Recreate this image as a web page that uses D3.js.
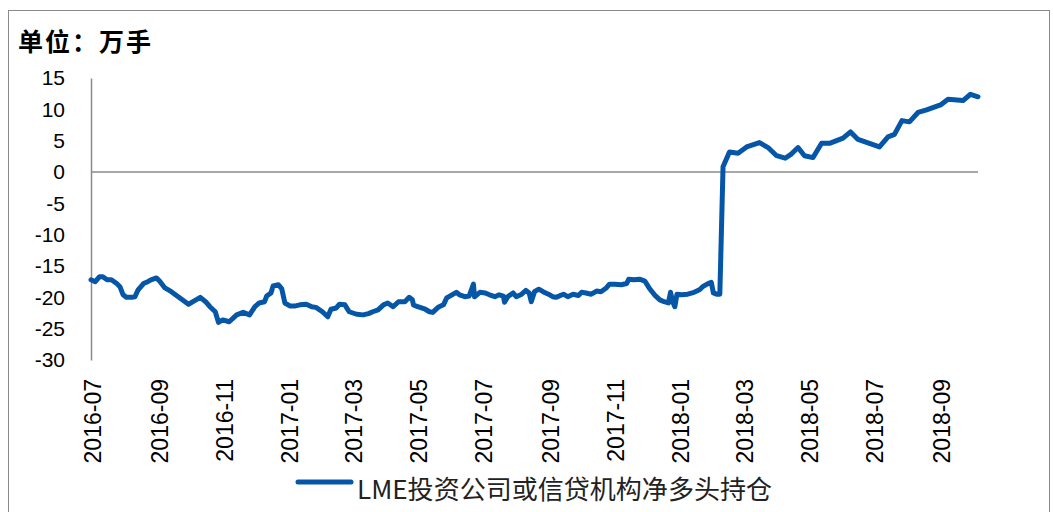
<!DOCTYPE html>
<html lang="zh">
<head>
<meta charset="UTF-8">
<title>LME投资公司或信贷机构净多头持仓</title>
<script src="https://d3js.org/d3.v7.min.js"></script>
<style>
    body { margin: 0; background: #fff; }
    svg { display: block; }
    .tick-y { font-family: "Liberation Sans", Arial, sans-serif; font-size: 21px; fill: #000; }
    .tick-x { font-family: "Liberation Sans", Arial, sans-serif; font-size: 23px; fill: #000; }
</style>
</head>
<body>
<div id="chart"></div>
<script>
    // values (unit: 万手)
    const dates = [
        "2016-06-29", "2016-07-03", "2016-07-07", "2016-07-10", "2016-07-14", "2016-07-18", "2016-07-23", "2016-07-26", "2016-07-29", "2016-08-01",
        "2016-08-06", "2016-08-09", "2016-08-12", "2016-08-17", "2016-08-21", "2016-08-24", "2016-08-29", "2016-09-01", "2016-09-06", "2016-09-12",
        "2016-09-20", "2016-09-28", "2016-10-03", "2016-10-09", "2016-10-14", "2016-10-18", "2016-10-23", "2016-10-26", "2016-10-30", "2016-11-05",
        "2016-11-12", "2016-11-18", "2016-11-24", "2016-11-29", "2016-12-03", "2016-12-08", "2016-12-10", "2016-12-14", "2016-12-16", "2016-12-21",
        "2016-12-24", "2016-12-27", "2017-01-01", "2017-01-05", "2017-01-10", "2017-01-16", "2017-01-21", "2017-01-25", "2017-01-31", "2017-02-05",
        "2017-02-08", "2017-02-13", "2017-02-16", "2017-02-21", "2017-02-25", "2017-03-04", "2017-03-10", "2017-03-15", "2017-03-19", "2017-03-24",
        "2017-03-29", "2017-04-02", "2017-04-07", "2017-04-12", "2017-04-15", "2017-04-18", "2017-04-22", "2017-04-25", "2017-04-26", "2017-04-30",
        "2017-05-07", "2017-05-11", "2017-05-14", "2017-05-19", "2017-05-24", "2017-05-27", "2017-06-01", "2017-06-05", "2017-06-08", "2017-06-13",
        "2017-06-17", "2017-06-21", "2017-06-22", "2017-06-27", "2017-07-02", "2017-07-06", "2017-07-11", "2017-07-15", "2017-07-19", "2017-07-20",
        "2017-07-23", "2017-07-28", "2017-07-31", "2017-08-05", "2017-08-09", "2017-08-12", "2017-08-14", "2017-08-17", "2017-08-21", "2017-08-25",
        "2017-08-30", "2017-09-03", "2017-09-06", "2017-09-13", "2017-09-17", "2017-09-22", "2017-09-27", "2017-09-30", "2017-10-04", "2017-10-09",
        "2017-10-14", "2017-10-18", "2017-10-23", "2017-10-26", "2017-10-31", "2017-11-06", "2017-11-11", "2017-11-13", "2017-11-18", "2017-11-23",
        "2017-11-28", "2017-12-02", "2017-12-07", "2017-12-12", "2017-12-16", "2017-12-20", "2017-12-22", "2017-12-24", "2017-12-26", "2017-12-28",
        "2018-01-01", "2018-01-07", "2018-01-13", "2018-01-18", "2018-01-21", "2018-01-26", "2018-01-29", "2018-01-31", "2018-02-03", "2018-02-06",
        "2018-02-09", "2018-02-15", "2018-02-23", "2018-03-03", "2018-03-15", "2018-03-23", "2018-03-31", "2018-04-08", "2018-04-14", "2018-04-20",
        "2018-04-26", "2018-05-04", "2018-05-12", "2018-05-20", "2018-06-01", "2018-06-08", "2018-06-15", "2018-07-05", "2018-07-13", "2018-07-19",
        "2018-07-26", "2018-08-02", "2018-08-10", "2018-08-18", "2018-08-31", "2018-09-07", "2018-09-21", "2018-09-28", "2018-10-05"
    ];

    const netLong = [
        -17.2, -17.5, -16.7, -16.7, -17.2, -17.2, -17.8, -18.3, -19.6, -20.0,
        -20.0, -19.9, -18.8, -17.8, -17.5, -17.2, -16.9, -17.4, -18.5, -19.1,
        -20.1, -21.1, -20.6, -20.0, -20.7, -21.5, -22.3, -24.0, -23.6, -23.9,
        -22.8, -22.4, -22.8, -21.5, -20.9, -20.7, -19.8, -19.3, -18.2, -18.0,
        -18.6, -20.9, -21.4, -21.4, -21.2, -21.1, -21.5, -21.6, -22.3, -23.1,
        -21.9, -21.7, -21.1, -21.2, -22.3, -22.7, -22.8, -22.6, -22.3, -22.0,
        -21.2, -20.9, -21.5, -20.7, -20.7, -20.7, -20.0, -20.4, -21.2, -21.5,
        -21.9, -22.3, -22.4, -21.6, -21.2, -20.1, -19.6, -19.2, -19.6, -19.9,
        -19.8, -17.9, -19.9, -19.2, -19.3, -19.6, -19.9, -19.6, -19.8, -20.8,
        -19.9, -19.3, -19.9, -19.5, -18.9, -19.3, -20.7, -19.1, -18.7, -19.1,
        -19.5, -19.9, -20.0, -19.5, -19.9, -19.5, -19.7, -19.2, -19.3, -19.5,
        -19.0, -19.1, -18.5, -17.9, -17.9, -18.0, -17.8, -17.1, -17.2, -17.1,
        -17.4, -18.5, -19.6, -20.4, -20.7, -20.9, -19.2, -20.7, -21.5, -19.5,
        -19.6, -19.5, -19.2, -18.8, -18.3, -17.8, -17.6, -19.3, -19.5, -19.5,
        0.85, 3.2, 3.0, 4.0, 4.7, 3.9, 2.6, 2.2, 2.9, 3.9,
        2.6, 2.3, 4.6, 4.6, 5.4, 6.4, 5.2, 4.0, 5.6, 6.0,
        8.2, 8.0, 9.5, 9.9, 10.7, 11.6, 11.4, 12.4, 12.0
    ];

    const yTicks = [15, 10, 5, 0, -5, -10, -15, -20, -25, -30];
    const xTicks = ["2016-07", "2016-09", "2016-11", "2017-01", "2017-03", "2017-05", "2017-07",
                    "2017-09", "2017-11", "2018-01", "2018-03", "2018-05", "2018-07", "2018-09"];
    const unitLabel = "单位：万手";
    const seriesName = "LME投资公司或信贷机构净多头持仓";

    const width = 1053;
    const height = 512;
    const blue = "#0656a8";
    const grey = "#8a8a8a";

    const parseDay = d3.timeParse("%Y-%m-%d");
    const parseMonth = d3.timeParse("%Y-%m");
    const data = dates.map((d, i) => ({ date: parseDay(d), value: netLong[i] }));

    const svg = d3.select("#chart").append("svg")
        .attr("width", width)
        .attr("height", height);

    // outer frame
    svg.append("rect")
        .attr("x", 8.5)
        .attr("y", 10.5)
        .attr("width", 1041)
        .attr("height", 520)
        .attr("fill", "none")
        .attr("stroke", grey)
        .attr("stroke-width", 1);

    const x = d3.scaleTime()
        .domain(d3.extent(data, d => d.date))
        .range([91, 978]);

    const y = d3.scaleLinear()
        .domain([-30, 15])
        .range([360, 78]);

    // y axis, plain hyphen for negatives like the original
    const yAxis = d3.axisLeft(y)
        .tickValues(yTicks)
        .tickFormat(d => String(d))
        .tickSize(0)
        .tickPadding(26);
    const gy = svg.append("g")
        .attr("transform", "translate(91,0)")
        .call(yAxis);
    gy.select(".domain").attr("stroke", grey).attr("stroke-width", 1.5);
    gy.selectAll("text").attr("class", "tick-y").attr("font-family", null).attr("font-size", null);

    // horizontal axis line at zero
    svg.append("line")
        .attr("x1", x.range()[0])
        .attr("x2", x.range()[1])
        .attr("y1", y(0))
        .attr("y2", y(0))
        .attr("stroke", grey)
        .attr("stroke-width", 1.5);

    // rotated month labels under the plot
    svg.append("g").selectAll("text")
        .data(xTicks)
        .join("text")
        .attr("class", "tick-x")
        .attr("text-anchor", "end")
        .attr("dy", "0.35em")
        .attr("transform", d => `translate(${x(parseMonth(d))},379) rotate(-90)`)
        .text(d => d);

    const line = d3.line()
        .x(d => x(d.date))
        .y(d => y(d.value));

    svg.append("path")
        .datum(data)
        .attr("fill", "none")
        .attr("stroke", blue)
        .attr("stroke-width", 5)
        .attr("stroke-linejoin", "round")
        .attr("stroke-linecap", "round")
        .attr("d", line);

    // unit label
    svg.append("text")
        .attr("x", 18)
        .attr("y", 51)
        .attr("font-family", "'Noto Sans CJK SC', sans-serif")
        .attr("font-size", 25)
        .attr("font-weight", "bold")
        .attr("letter-spacing", 2)
        .text(unitLabel);

    // legend
    svg.append("line")
        .attr("x1", 298)
        .attr("x2", 351)
        .attr("y1", 482)
        .attr("y2", 482)
        .attr("stroke", blue)
        .attr("stroke-width", 5)
        .attr("stroke-linecap", "round");

    svg.append("text")
        .attr("x", 357)
        .attr("y", 499)
        .attr("font-family", "'Noto Sans CJK SC', sans-serif")
        .attr("font-size", 26)
        .attr("fill", "#222")
        .attr("textLength", 415)
        .attr("lengthAdjust", "spacingAndGlyphs")
        .text(seriesName);
</script>
</body>
</html>
